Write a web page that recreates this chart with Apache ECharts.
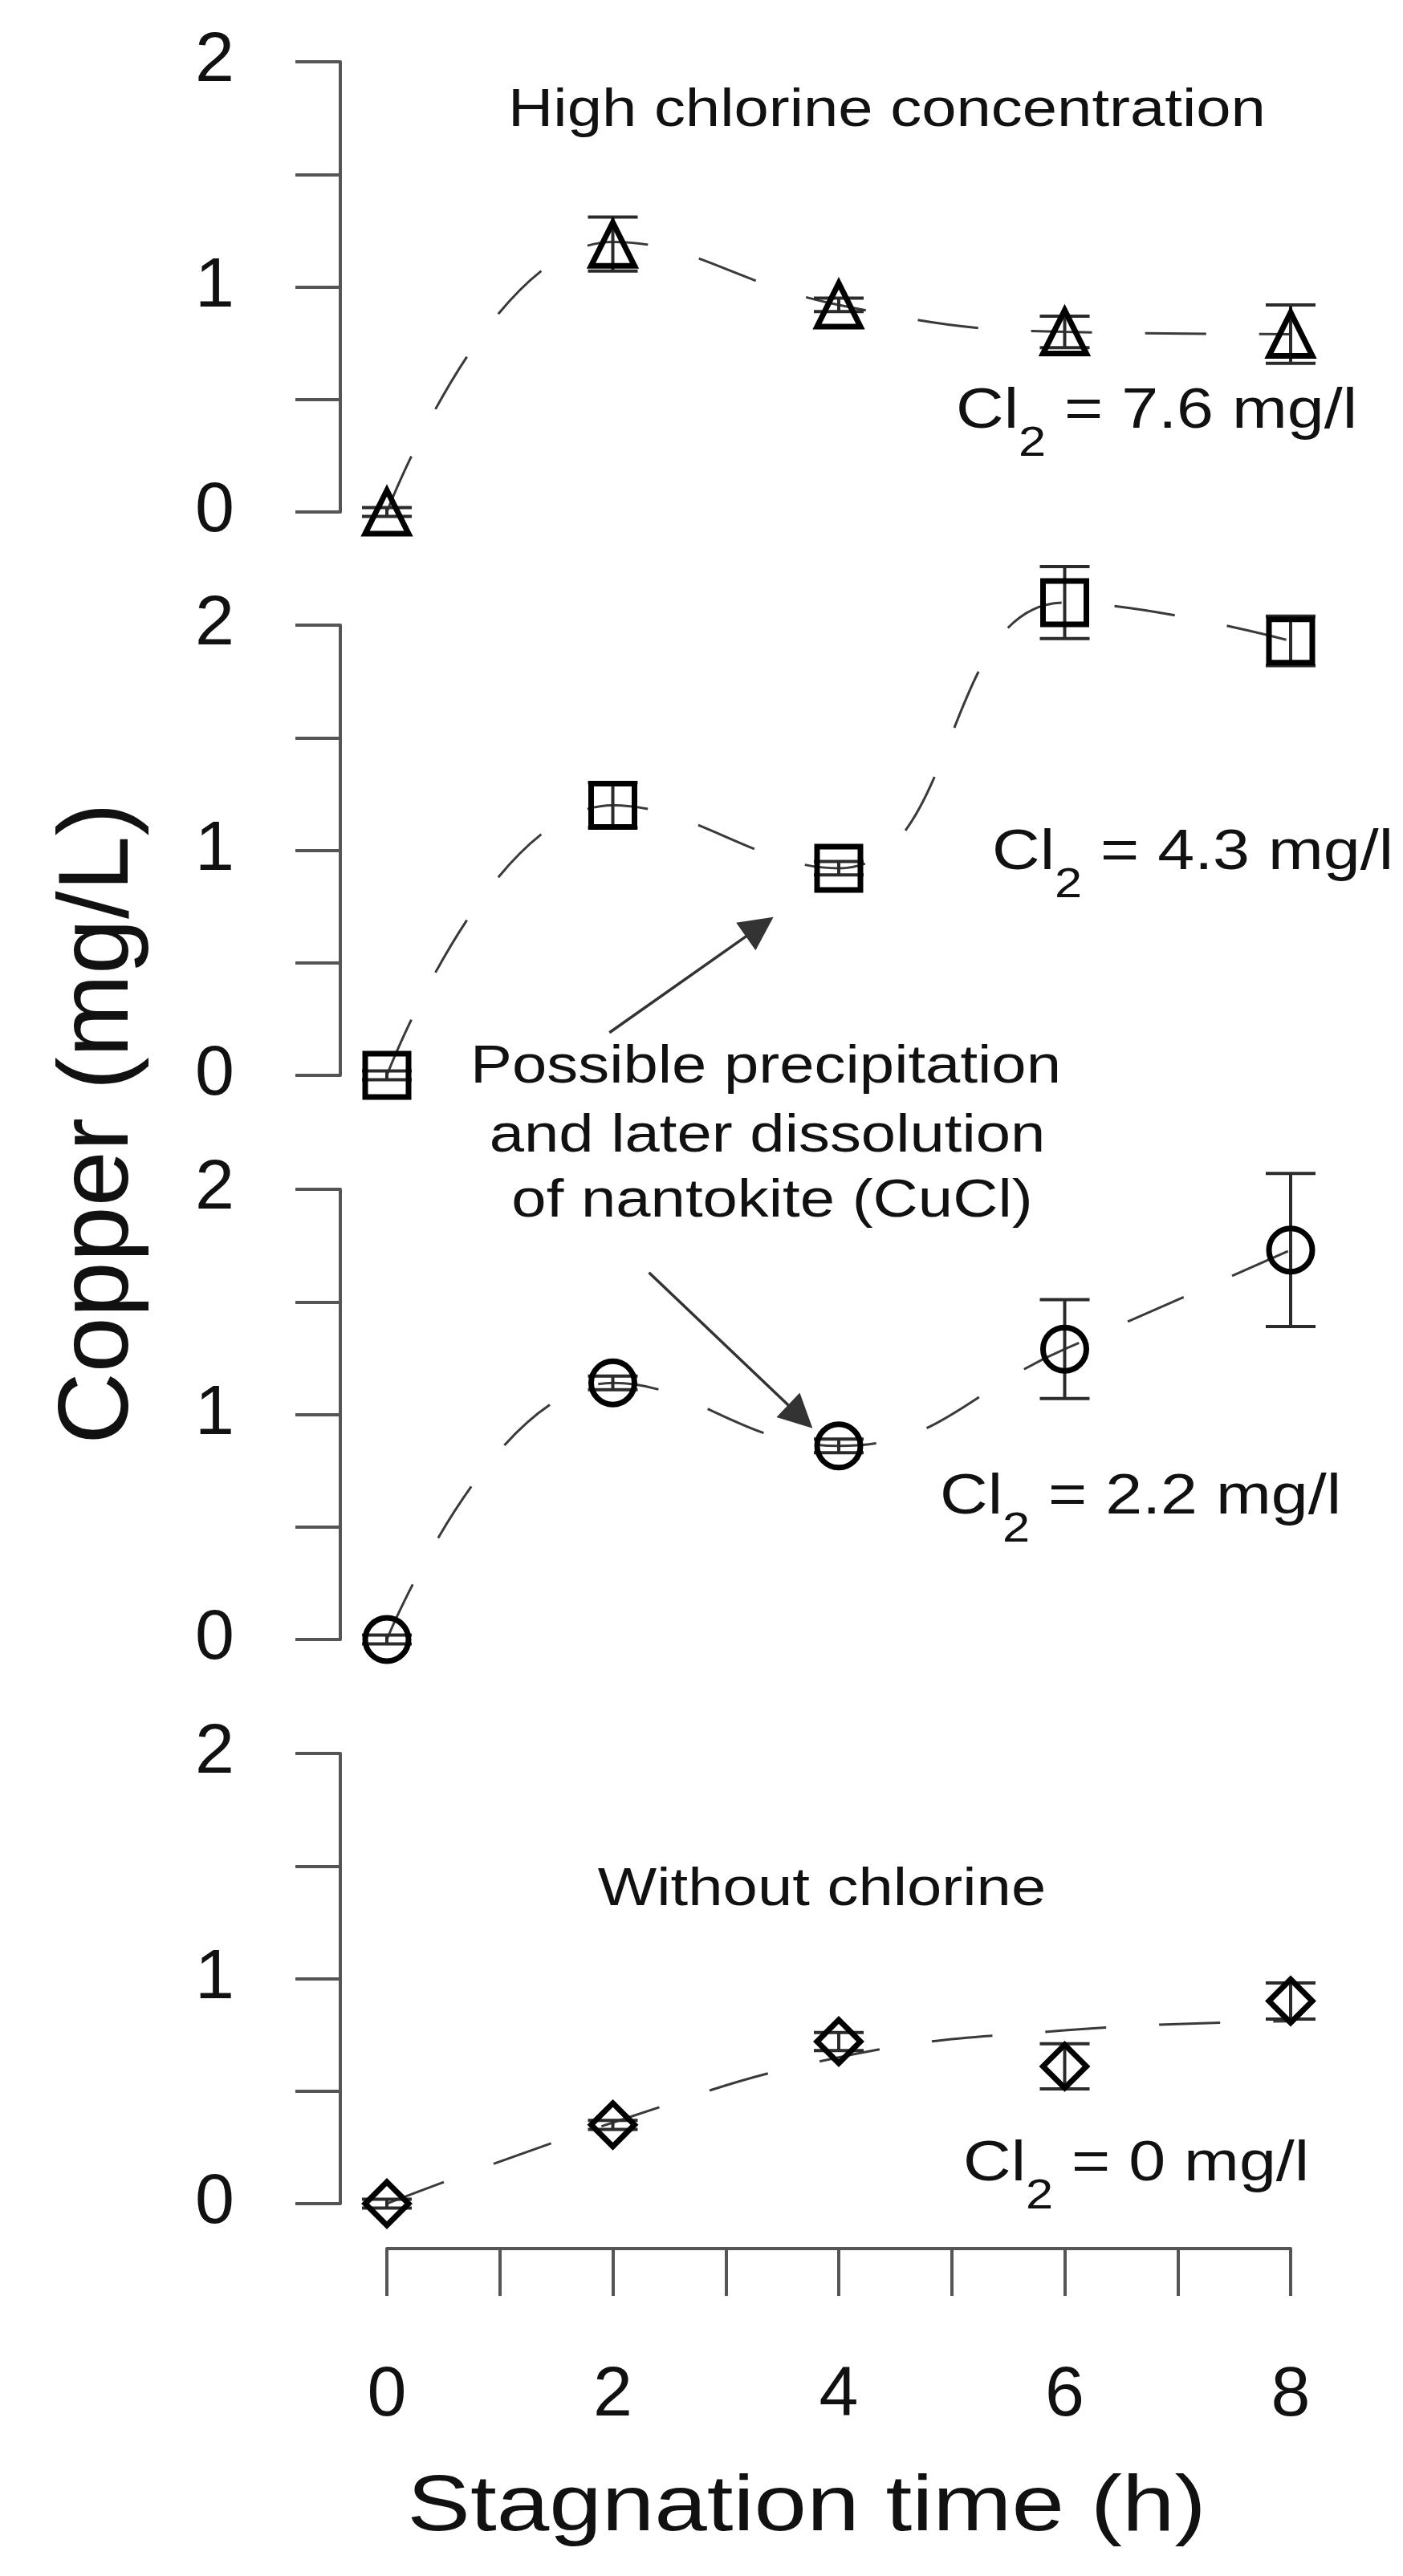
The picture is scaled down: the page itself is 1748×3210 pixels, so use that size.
<!DOCTYPE html>
<html>
<head>
<meta charset="utf-8">
<title>Copper vs stagnation time</title>
<script src="https://cdn.jsdelivr.net/npm/echarts@6/dist/echarts.min.js"></script>
<style>
  html, body { margin: 0; padding: 0; background: #fff; }
  #chart { width: 1748px; height: 3210px; }
</style>
</head>
<body>
<div id="chart"></div>
<script>
// stagnation times (h) at which copper was sampled
const hours = [0, 2, 4, 6, 8]

// mean copper (mg/L) and half error bar, one pair per chlorine dose
const copperCl76 = [0, 1.19, 0.92, 0.8, 0.79]
const errCl76 = [0.02, 0.12, 0.03, 0.07, 0.13]
const copperCl43 = [0, 1.2, 0.92, 2.1, 1.93]
const errCl43 = [0.02, 0.1, 0.03, 0.16, 0.11]
const copperCl22 = [0, 1.14, 0.86, 1.29, 1.73]
const errCl22 = [0.02, 0.03, 0.03, 0.22, 0.34]
const copperCl0 = [0, 0.35, 0.72, 0.61, 0.9]
const errCl0 = [0.02, 0.02, 0.04, 0.1, 0.08]

// dashed trend curves
const trendCl76 = [0, 1.2, 0.92, 0.8, 0.79]
const trendCl43 = [0, 1.2, 0.92, 2.1, 1.93]
const trendCl22 = [0, 1.14, 0.86, 1.29, 1.73]
const trendCl0 = [0, 0.36, 0.65, 0.77, 0.81]

const doses = ["7.6", "4.3", "2.2", "0"]
const yTicks = [0, 1, 2]
const xTicks = [0, 2, 4, 6, 8]

// arrows pointing at the 4 h samples (data units of panel 2 and 3)
const arrowPanel2 = [[1.97, 0.19], [3.3, 0.66]]
const arrowPanel3 = [[2.32, 1.63], [3.66, 0.99]]

const notes = {
  high: "High chlorine concentration",
  precip: ["Possible precipitation", "and later dissolution", "of nantokite (CuCl)"],
  none: "Without chlorine",
  xTitle: "Stagnation time (h)",
  yTitle: "Copper (mg/L)",
}

const font = '"Liberation Sans", Arial, sans-serif'
const ink = "#111"
const axisGray = "#555"
const stretch = 1.18
const panelTops = [77, 779, 1482, 2185]

const panels = [
  { copper: copperCl76, err: errCl76, trend: trendCl76, symbol: "triangle" },
  { copper: copperCl43, err: errCl43, trend: trendCl43, symbol: "rect", arrow: arrowPanel2 },
  { copper: copperCl22, err: errCl22, trend: trendCl22, symbol: "circle", arrow: arrowPanel3 },
  { copper: copperCl0, err: errCl0, trend: trendCl0, symbol: "diamond" },
]
const last = panels.length - 1

function errorBar(params, api) {
  const lo = api.coord([api.value(0), api.value(1)])
  const hi = api.coord([api.value(0), api.value(2)])
  const half = 31
  const style = { stroke: "#2b2b2b", lineWidth: 4 }
  return {
    type: "group",
    children: [
      { type: "line", shape: { x1: lo[0], y1: lo[1], x2: hi[0], y2: hi[1] }, style },
      { type: "line", shape: { x1: lo[0] - half, y1: lo[1], x2: lo[0] + half, y2: lo[1] }, style },
      { type: "line", shape: { x1: hi[0] - half, y1: hi[1], x2: hi[0] + half, y2: hi[1] }, style },
    ],
  }
}

const grid = panels.map((p, i) => ({
  left: 482,
  width: 1126,
  top: panelTops[i],
  height: 561,
  outerBoundsMode: "none",
}))

const xAxis = panels.map((p, i) => ({
  gridIndex: i,
  type: "value",
  min: 0,
  max: 8,
  interval: 1,
  show: i === last,
  offset: 56,
  axisLine: { show: true, onZero: false, lineStyle: { color: axisGray, width: 4 } },
  axisTick: { show: true, length: 59, lineStyle: { color: axisGray, width: 4 } },
  axisLabel: {
    margin: 140,
    fontSize: 88,
    color: ink,
    fontFamily: font,
    formatter: (v) => (xTicks.includes(v) ? String(v) : ""),
  },
  splitLine: { show: false },
}))

const yAxis = panels.map((p, i) => ({
  gridIndex: i,
  type: "value",
  min: 0,
  max: 2,
  interval: 0.5,
  offset: 58,
  axisLine: { show: true, onZero: false, lineStyle: { color: axisGray, width: 4 } },
  axisTick: { show: true, length: 56, lineStyle: { color: axisGray, width: 4 } },
  axisLabel: {
    margin: 132,
    fontSize: 88,
    color: ink,
    fontFamily: font,
    formatter: (v) => (yTicks.includes(v) ? String(v) : ""),
  },
  splitLine: { show: false },
}))

const series = []
panels.forEach((p, i) => {
  const axes = { xAxisIndex: i, yAxisIndex: i }
  series.push({
    type: "line",
    ...axes,
    data: hours.map((h, k) => [h, p.trend[k]]),
    smooth: 0.45,
    showSymbol: false,
    symbol: "none",
    clip: false,
    z: 1,
    lineStyle: { color: "#3a3a3a", width: 3, type: [76, 66] },
  })
  series.push({
    type: "custom",
    ...axes,
    coordinateSystem: "cartesian2d",
    clip: false,
    z: 2,
    data: hours.map((h, k) => [h, p.copper[k] - p.err[k], p.copper[k] + p.err[k]]),
    renderItem: errorBar,
  })
  const markers = {
    type: "scatter",
    ...axes,
    data: hours.map((h, k) => [h, p.copper[k]]),
    symbol: p.symbol,
    symbolSize: 54,
    clip: false,
    z: 3,
    itemStyle: { color: "rgba(0,0,0,0)", borderColor: "#000", borderWidth: 7, opacity: 1 },
  }
  if (p.arrow) {
    markers.markLine = {
      silent: true,
      symbol: ["none", "triangle"],
      symbolSize: 42,
      label: { show: false },
      lineStyle: { color: "#333", width: 3.5, type: "solid" },
      data: [[{ coord: p.arrow[0] }, { coord: p.arrow[1] }]],
    }
  }
  series.push(markers)
})

function textStyle(text, size, align) {
  return {
    text,
    font: `${size}px ${font}`,
    fill: ink,
    align,
    textAlign: align,
    verticalAlign: "middle",
    textVerticalAlign: "middle",
  }
}

function note(text, x, y, size = 66) {
  return { type: "text", x, y, scaleX: stretch, silent: true, style: textStyle(text, size, "center") }
}

function doseLabel(dose, x, y) {
  return {
    type: "group",
    x,
    y,
    scaleX: stretch,
    silent: true,
    children: [
      { type: "text", style: textStyle("Cl", 70, "left") },
      { type: "text", x: 66, y: 40, style: textStyle("2", 52, "left") },
      { type: "text", x: 95, style: textStyle(` = ${dose} mg/l`, 70, "left") },
    ],
  }
}

const graphic = [
  note(notes.high, 1105, 139),
  note(notes.precip[0], 954, 1331),
  note(notes.precip[1], 956, 1417),
  note(notes.precip[2], 962, 1498),
  note(notes.none, 1024, 2356),
  doseLabel(doses[0], 1191, 514),
  doseLabel(doses[1], 1236, 1064),
  doseLabel(doses[2], 1171, 1867),
  doseLabel(doses[3], 1200, 2698),
  { type: "text", x: 1005, y: 3126, scaleX: 1.19, silent: true, style: textStyle(notes.xTitle, 99, "center") },
  { type: "text", x: 125, y: 1400, rotation: Math.PI / 2, silent: true, style: textStyle(notes.yTitle, 124, "center") },
]

const chart = echarts.init(document.getElementById("chart"))
chart.setOption({
  animation: false,
  backgroundColor: "#fff",
  textStyle: { fontFamily: font },
  grid,
  xAxis,
  yAxis,
  series,
  graphic,
})

onresize = () => chart.resize()
</script>
</body>
</html>
